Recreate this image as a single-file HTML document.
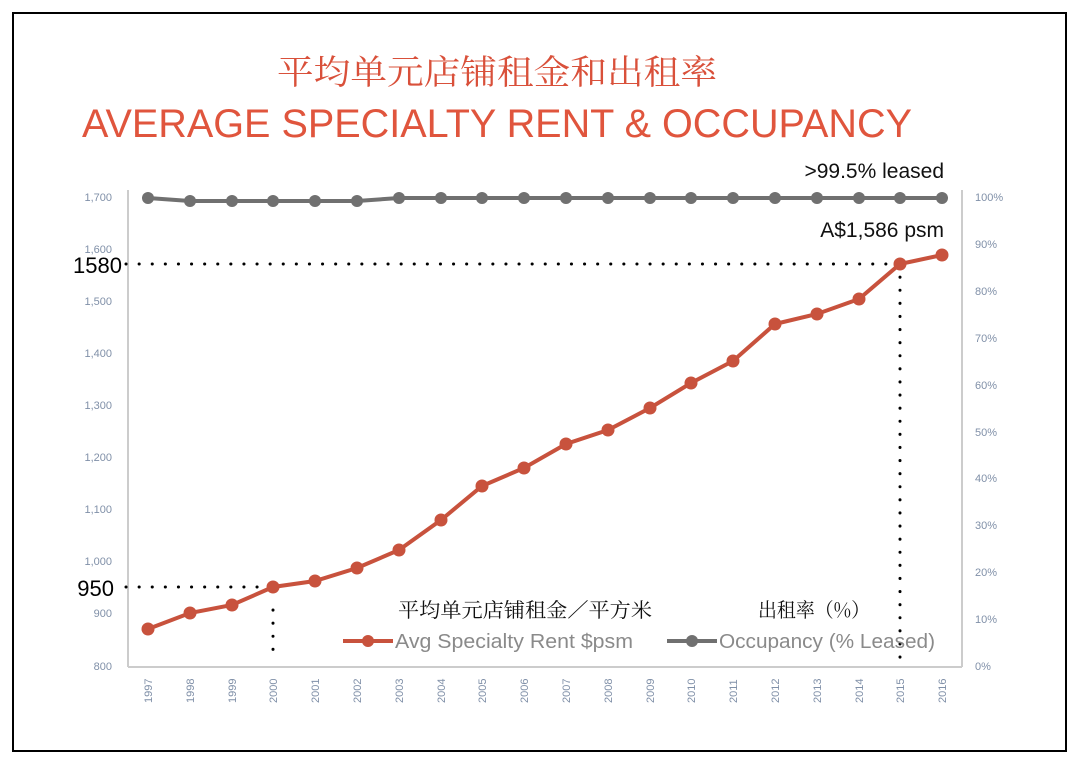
<!DOCTYPE html>
<html><head><meta charset="utf-8"><style>
body{margin:0;background:#fff;width:1080px;height:764px;overflow:hidden}
</style></head><body>
<svg width="1080" height="764" xmlns="http://www.w3.org/2000/svg" font-family="Liberation Sans, Noto Sans CJK SC, sans-serif">
<rect x="13" y="13" width="1053" height="738" fill="#fff" stroke="#000" stroke-width="2"/>
<text x="497" y="84" text-anchor="middle" font-size="34" fill="#d9503a" font-family="Noto Serif CJK SC, serif" textLength="440" lengthAdjust="spacingAndGlyphs">平均单元店铺租金和出租率</text>
<text x="497" y="137" text-anchor="middle" font-size="40" fill="#e0553d" textLength="830" lengthAdjust="spacingAndGlyphs">AVERAGE SPECIALTY RENT &amp; OCCUPANCY</text>
<line x1="128" y1="190" x2="128" y2="667" stroke="#ccc" stroke-width="2"/>
<line x1="128" y1="667" x2="962" y2="667" stroke="#ccc" stroke-width="2"/>
<line x1="962" y1="190" x2="962" y2="667" stroke="#ccc" stroke-width="2"/>
<g font-size="11" fill="#8090a8" text-anchor="end">
<text x="112" y="201">1,700</text><text x="112" y="253">1,600</text><text x="112" y="305">1,500</text><text x="112" y="357">1,400</text><text x="112" y="409">1,300</text><text x="112" y="461">1,200</text><text x="112" y="513">1,100</text><text x="112" y="565">1,000</text><text x="112" y="617">900</text><text x="112" y="670">800</text>
</g>
<g font-size="11" fill="#8090a8">
<text x="975" y="201">100%</text><text x="975" y="248">90%</text><text x="975" y="295">80%</text><text x="975" y="342">70%</text><text x="975" y="389">60%</text><text x="975" y="436">50%</text><text x="975" y="482">40%</text><text x="975" y="529">30%</text><text x="975" y="576">20%</text><text x="975" y="623">10%</text><text x="975" y="670">0%</text>
</g>
<g font-size="11" fill="#8090a8" id="yrs"></g>
<g stroke="#000" stroke-width="3" stroke-dasharray="0.1 13" stroke-linecap="round" fill="none">
<line x1="126" y1="264" x2="900" y2="264"/>
<line x1="900" y1="264" x2="900" y2="660"/>
<line x1="126" y1="587" x2="272" y2="587"/>
<line x1="273" y1="610" x2="273" y2="655"/>
</g>
<text x="122" y="273" text-anchor="end" font-size="22" fill="#000">1580</text>
<text x="114" y="596" text-anchor="end" font-size="22" fill="#000">950</text>
<text x="944" y="178" text-anchor="end" font-size="21" fill="#111">&gt;99.5% leased</text>
<text x="944" y="237" text-anchor="end" font-size="21" fill="#111">A$1,586 psm</text>
<polyline fill="none" stroke="#707070" stroke-width="4" points="148,198 190,201 232,201 273,201 315,201 357,201 399,198 441,198 482,198 524,198 566,198 608,198 650,198 691,198 733,198 775,198 817,198 859,198 900,198 942,198"/>
<g fill="#707070" id="oc"></g>
<polyline fill="none" stroke="#c8523d" stroke-width="4" points="148,629 190,613 232,605 273,587 315,581 357,568 399,550 441,520 482,486 524,468 566,444 608,430 650,408 691,383 733,361 775,324 817,314 859,299 900,264 942,255"/>
<g fill="#c8523d" id="rc"></g>
<text x="398" y="617" font-size="20" fill="#111" font-family="Noto Serif CJK SC, serif" textLength="254" lengthAdjust="spacingAndGlyphs">平均单元店铺租金／平方米</text>
<text x="758" y="617" font-size="20" fill="#111" font-family="Noto Serif CJK SC, serif" textLength="112" lengthAdjust="spacingAndGlyphs">出租率（%）</text>
<line x1="343" y1="641" x2="393" y2="641" stroke="#c8523d" stroke-width="4"/><circle cx="368" cy="641" r="6" fill="#c8523d"/>
<text x="395" y="648" font-size="20" fill="#8a8a8a" textLength="238" lengthAdjust="spacingAndGlyphs">Avg Specialty Rent $psm</text>
<line x1="667" y1="641" x2="717" y2="641" stroke="#707070" stroke-width="4"/><circle cx="692" cy="641" r="6" fill="#707070"/>
<text x="719" y="648" font-size="20" fill="#8a8a8a" textLength="216" lengthAdjust="spacingAndGlyphs">Occupancy (% Leased)</text>
<script>
var xs=[148,190,232,273,315,357,399,441,482,524,566,608,650,691,733,775,817,859,900,942];
var r=[629,613,605,587,581,568,550,520,486,468,444,430,408,383,361,324,314,299,264,255];
var o=[198,201,201,201,201,201,198,198,198,198,198,198,198,198,198,198,198,198,198,198];
var ns="http://www.w3.org/2000/svg";
xs.forEach(function(x,i){
 var c=document.createElementNS(ns,"circle");c.setAttribute("cx",x);c.setAttribute("cy",o[i]);c.setAttribute("r",6);document.getElementById("oc").appendChild(c);
 c=document.createElementNS(ns,"circle");c.setAttribute("cx",x);c.setAttribute("cy",r[i]);c.setAttribute("r",6.5);document.getElementById("rc").appendChild(c);
 var t=document.createElementNS(ns,"text");t.setAttribute("transform","translate("+(x+4)+",703) rotate(-90)");t.textContent=1997+i;document.getElementById("yrs").appendChild(t);
});
</script>
</svg>
</body></html>
